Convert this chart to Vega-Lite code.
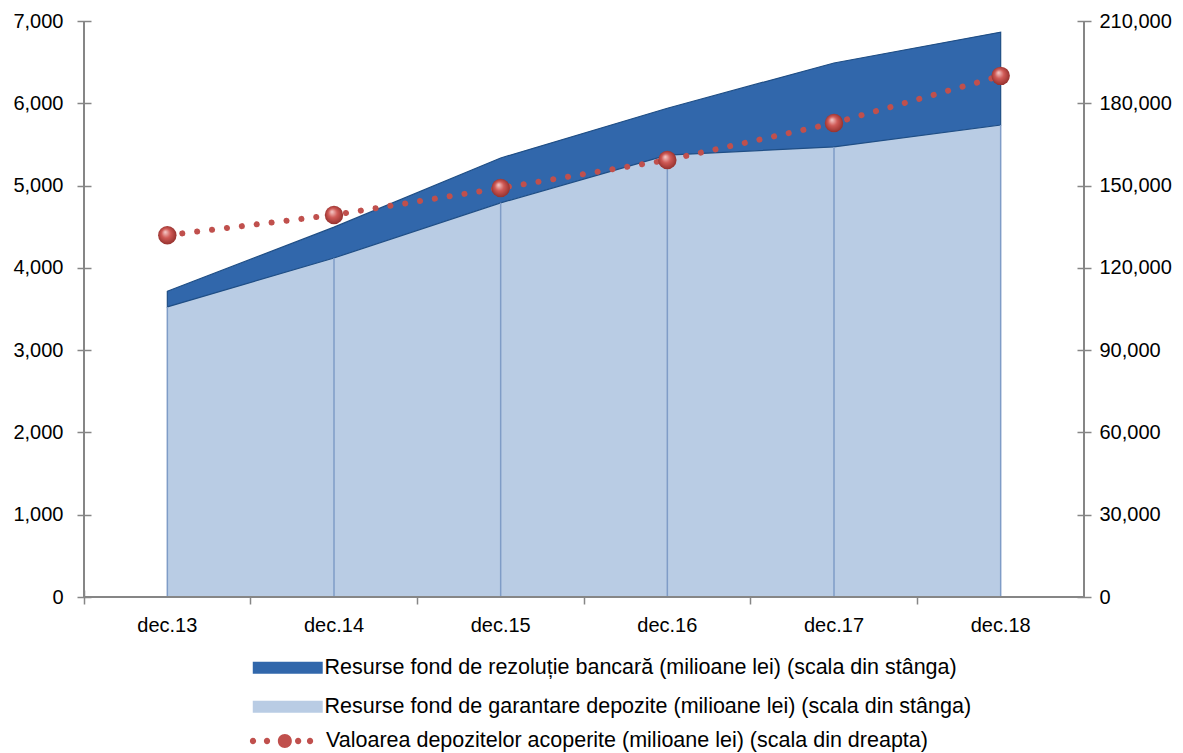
{
  "$schema": "https://vega.github.io/schema/vega-lite/v6.json",
  "width": 1000,
  "height": 576,
  "autosize": {"type": "none"},
  "padding": {"left": 84, "top": 21, "right": 99, "bottom": 156},
  "config": {
    "font": "Liberation Sans",
    "view": {"stroke": null},
    "axis": {"labelFont": "Liberation Sans", "labelFontSize": 20, "labelColor": "#000000", "tickColor": "#868686", "tickWidth": 1.5, "grid": false},
    "legend": {"labelFont": "Liberation Sans", "labelFontSize": 21.5, "labelColor": "#000000", "labelLimit": 0}
  },
  "data": {
    "values": [
      {"luna": "dec.13", "garantare": 3525, "rezolutie": 190, "depozite": 131900},
      {"luna": "dec.14", "garantare": 4120, "rezolutie": 375, "depozite": 139300},
      {"luna": "dec.15", "garantare": 4790, "rezolutie": 545, "depozite": 149100},
      {"luna": "dec.16", "garantare": 5370, "rezolutie": 570, "depozite": 159300},
      {"luna": "dec.17", "garantare": 5470, "rezolutie": 1020, "depozite": 172800},
      {"luna": "dec.18", "garantare": 5735, "rezolutie": 1130, "depozite": 190000}
    ]
  },
  "layer": [
    {
      "layer": [
        {
          "transform": [{"fold": ["garantare", "rezolutie"], "as": ["serie", "valoare"]}],
          "mark": {"type": "area", "interpolate": "linear", "opacity": 1, "strokeWidth": 1.2},
          "encoding": {
            "x": {
              "field": "luna", "type": "ordinal", "bandPosition": 0.5, "title": null,
              "scale": {"type": "band", "paddingInner": 0, "paddingOuter": 0},
              "axis": {"bandPosition": 0, "offset": -7, "tickSize": 14, "domain": false, "labelPadding": 11, "labelAngle": 0}
            },
            "y": {
              "field": "valoare", "type": "quantitative", "stack": "zero", "title": null,
              "scale": {"domain": [0, 7000], "nice": false},
              "axis": {"orient": "left", "values": [0, 1000, 2000, 3000, 4000, 5000, 6000, 7000], "format": ",d", "offset": -7, "tickSize": 14, "domain": false, "labelPadding": 14}
            },
            "order": {"field": "serie", "sort": "ascending"},
            "fill": {
              "field": "serie", "type": "nominal",
              "scale": {"domain": ["rezolutie", "garantare"], "range": ["#3167AB", "#B9CCE4"]},
              "legend": {
                "orient": "none", "legendX": 193, "legendY": 636, "direction": "vertical", "title": null,
                "symbolType": "M-5.83,-1H5.83V1H-5.83Z", "symbolSize": 144, "labelOffset": 26, "rowPadding": 16,
                "labelExpr": "datum.value === 'rezolutie' ? 'Resurse fond de rezoluție bancară (milioane lei) (scala din stânga)' : 'Resurse fond de garantare depozite (milioane lei) (scala din stânga)'",
                "encode": {"symbols": {"update": {"stroke": {"signal": "datum.value === 'rezolutie' ? '#1F4E85' : '#A6C0E2'"}, "strokeWidth": {"value": 1.5}, "opacity": {"value": 1}}}}
              }
            },
            "stroke": {"condition": {"test": "datum.serie === 'rezolutie'", "value": "#1F4E85"}, "value": null}
          }
        },
        {
          "mark": {"type": "rule", "color": "#7F9CC7", "strokeWidth": 1.5},
          "encoding": {
            "x": {"field": "luna", "type": "ordinal", "bandPosition": 0.5, "title": null},
            "y": {"field": "garantare", "type": "quantitative", "title": null},
            "y2": {"datum": 0}
          }
        },
        {
          "mark": {"type": "rule", "color": "#868686", "strokeWidth": 2},
          "encoding": {"x": {"datum": "dec.13", "type": "ordinal", "bandPosition": 0}}
        },
        {
          "mark": {"type": "rule", "color": "#868686", "strokeWidth": 2},
          "encoding": {"x": {"datum": "dec.18", "type": "ordinal", "bandPosition": 1}}
        },
        {
          "mark": {"type": "rule", "color": "#868686", "strokeWidth": 2},
          "encoding": {"y": {"datum": 0, "type": "quantitative"}}
        }
      ]
    },
    {
      "layer": [
        {
          "mark": {"type": "line", "strokeWidth": 6, "strokeCap": "round", "strokeDash": [0.1, 14.9]},
          "encoding": {
            "x": {"field": "luna", "type": "ordinal", "bandPosition": 0.5, "title": null},
            "y": {
              "field": "depozite", "type": "quantitative", "title": null,
              "scale": {"domain": [0, 210000], "nice": false},
              "axis": {"orient": "right", "values": [0, 30000, 60000, 90000, 120000, 150000, 180000, 210000], "format": ",d", "offset": -7, "tickSize": 14, "domain": false, "labelPadding": 8}
            },
            "stroke": {
              "datum": "depozite",
              "scale": {"range": ["#C0504D"]},
              "legend": {
                "orient": "none", "legendX": 169, "legendY": 685, "title": null,
                "symbolType": "M-1.09,0a0.09,0.09 0 1,0 0.18,0a0.09,0.09 0 1,0 -0.18,0ZM-0.69,0a0.09,0.09 0 1,0 0.18,0a0.09,0.09 0 1,0 -0.18,0ZM-0.29,0a0.2,0.2 0 1,0 0.4,0a0.2,0.2 0 1,0 -0.4,0ZM0.2,0a0.09,0.09 0 1,0 0.18,0a0.09,0.09 0 1,0 -0.18,0ZM0.54,0a0.09,0.09 0 1,0 0.18,0a0.09,0.09 0 1,0 -0.18,0Z",
                "symbolSize": 4900, "labelOffset": 3,
                "labelExpr": "'Valoarea depozitelor acoperite (milioane lei) (scala din dreapta)'",
                "encode": {"symbols": {"update": {"fill": {"value": "#C0504D"}, "stroke": {"value": "transparent"}, "strokeWidth": {"value": 0}, "opacity": {"value": 1}}}}
              }
            }
          }
        },
        {
          "mark": {
            "type": "point", "filled": true, "size": 340, "opacity": 1,
            "fill": {"gradient": "radial", "x1": 0.38, "y1": 0.32, "r1": 0, "x2": 0.5, "y2": 0.5, "r2": 0.55,
              "stops": [{"offset": 0, "color": "#F6CFCD"}, {"offset": 0.45, "color": "#D05A56"}, {"offset": 1, "color": "#8E2C29"}]}
          },
          "encoding": {
            "x": {"field": "luna", "type": "ordinal", "bandPosition": 0.5, "title": null},
            "y": {"field": "depozite", "type": "quantitative", "title": null}
          }
        }
      ]
    }
  ],
  "resolve": {"scale": {"y": "independent"}}
}
